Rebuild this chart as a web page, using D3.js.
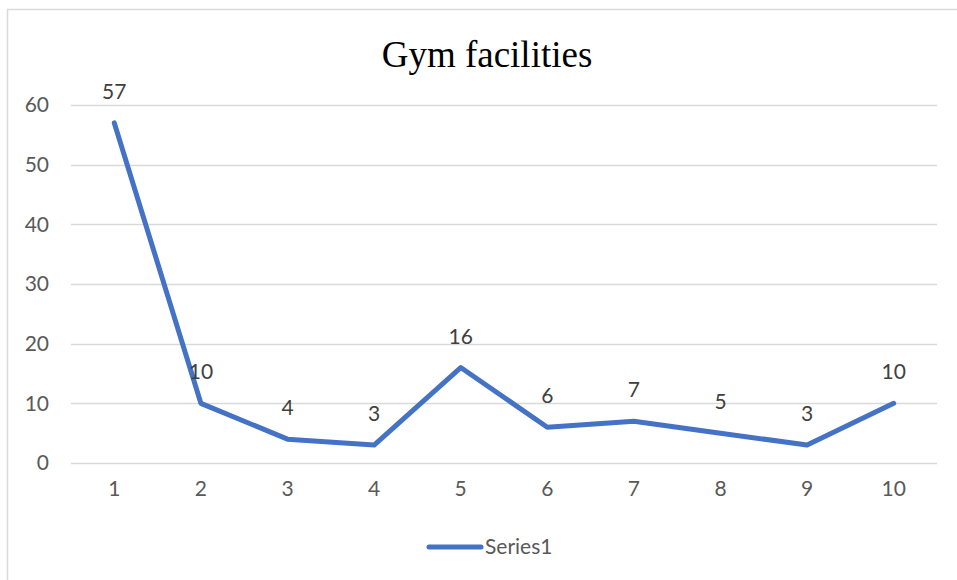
<!DOCTYPE html>
<html>
<head>
<meta charset="utf-8">
<script src="https://cdn.jsdelivr.net/npm/d3@7"></script>
<style>
  body { margin: 0; background: #fff; }
  svg { display: block; }
</style>
</head>
<body>
<div id="chart"></div>
<script>
// data
var categories = ["1", "2", "3", "4", "5", "6", "7", "8", "9", "10"];
var series1 = [57, 10, 4, 3, 16, 6, 7, 5, 3, 10];
var yTicks = [0, 10, 20, 30, 40, 50, 60];

var W = 957, H = 580;
var margin = {top: 105, right: 20, bottom: 117, left: 71};

var svg = d3.select("#chart")
    .append("svg")
    .attr("width", W)
    .attr("height", H);

// chart area border
svg.append("rect")
    .attr("x", 7.5)
    .attr("y", 9.5)
    .attr("width", 980)
    .attr("height", 600)
    .style("fill", "#fff")
    .style("stroke", "#d9d9d9")
    .style("stroke-width", "1.5px");

// title
svg.append("text")
    .attr("x", 487)
    .attr("y", 67)
    .attr("text-anchor", "middle")
    .text("Gym facilities")
    .style("font-family", "'Liberation Serif', 'Times New Roman', serif")
    .style("font-size", "37px")
    .style("fill", "#000");

var x = d3.scaleBand()
    .domain(categories)
    .range([margin.left, 937]);

var y = d3.scaleLinear()
    .domain([0, 60])
    .range([463, 105]);

// gridlines
svg.append("g")
    .selectAll("line")
    .data(yTicks)
    .enter()
    .append("line")
    .attr("x1", margin.left)
    .attr("x2", 937)
    .attr("y1", function (d) { return Math.round(y(d)) + 0.5; })
    .attr("y2", function (d) { return Math.round(y(d)) + 0.5; })
    .style("stroke", "#d9d9d9")
    .style("stroke-width", "1.5px");

var font = "Lato, 'Noto Sans', sans-serif";
var fs = "21px";

// y axis labels
var yAxis = d3.axisLeft(y).tickValues(yTicks).tickSize(0).tickPadding(0);
var gy = svg.append("g")
    .attr("transform", "translate(49,0)")
    .call(yAxis);
gy.select(".domain").remove();
gy.selectAll("text")
    .style("font-family", font)
    .style("font-size", fs)
    .style("fill", "#595959");

// x axis labels
var xAxis = d3.axisBottom(x).tickSize(0).tickPadding(0);
var gx = svg.append("g")
    .attr("transform", "translate(0,481)")
    .call(xAxis);
gx.select(".domain").remove();
gx.selectAll("text")
    .style("font-family", font)
    .style("font-size", fs)
    .style("fill", "#595959");

var cx = function (d, i) { return x(categories[i]) + x.bandwidth() / 2; };

// line
var line = d3.line()
    .x(cx)
    .y(function (d) { return y(d); });

svg.append("path")
    .datum(series1)
    .attr("d", line)
    .style("fill", "none")
    .style("stroke", "#4472c4")
    .style("stroke-width", "5px")
    .style("stroke-linejoin", "round")
    .style("stroke-linecap", "round");

// data labels
svg.selectAll("text.label")
    .data(series1)
    .enter()
    .append("text")
    .attr("class", "label")
    .attr("x", cx)
    .attr("y", function (d) { return y(d) - 24; })
    .attr("text-anchor", "middle")
    .text(function (d) { return d; })
    .style("font-family", font)
    .style("font-size", fs)
    .style("fill", "#404040");

// legend
svg.append("line")
    .attr("x1", 429)
    .attr("x2", 481)
    .attr("y1", 547)
    .attr("y2", 547)
    .style("stroke", "#4472c4")
    .style("stroke-width", "5px")
    .style("stroke-linecap", "round");

svg.append("text")
    .attr("x", 485)
    .attr("y", 554)
    .text("Series1")
    .style("font-family", font)
    .style("font-size", fs)
    .style("fill", "#595959");
</script>
</body>
</html>
